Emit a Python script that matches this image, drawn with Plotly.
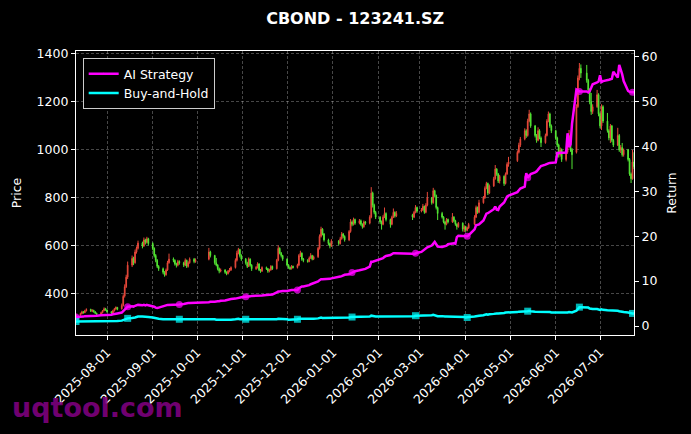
import pandas as pd
import plotly.graph_objects as go

# trading calendar (weekdays minus exchange holidays)
first_day = "2025-07-11"
last_day = "2026-07-24"
holidays = [
    "2025-10-01", "2025-10-02", "2025-10-03", "2025-10-06", "2025-10-07", "2025-10-08",
    "2026-01-01", "2026-01-02",
    "2026-02-16", "2026-02-17", "2026-02-18", "2026-02-19", "2026-02-20", "2026-02-23",
    "2026-04-06",
    "2026-05-01", "2026-05-04", "2026-05-05",
    "2026-06-19",
]

# OHLC, one row of values per month
opens = [
    305, 312, 318, 326, 322, 330, 336, 328, 332, 326, 320, 315, 322, 330, 339,
    333, 326, 320, 330, 338, 344, 338, 352, 392, 430, 470, 520, 548, 530, 575, 590, 612, 600, 625, 615, 630,
    610, 590, 560, 540, 515, 505, 490, 480, 500, 530, 545, 540, 525, 520, 535, 530, 520, 540, 515, 530, 545, 535,
    545, 575, 560, 530, 520, 505, 495, 500, 490, 485, 495, 500, 510, 540, 570, 585, 560,
    545, 530, 515, 545, 520, 505, 510, 525, 500, 495, 510, 505, 495, 500, 515, 505, 540, 590, 570, 560,
    545, 520, 510, 505, 515, 510, 520, 560, 570, 545, 540, 535, 550, 560, 545, 555, 590, 640, 670, 650, 625, 610, 600,
    620, 610, 630, 650, 640, 625, 660, 700, 690, 710, 695, 705, 690, 680, 700, 695, 720, 820, 770, 740,
    720, 700, 690, 720, 735, 710, 690, 720, 740, 725, 730, 720, 740, 760,
    745, 750, 765, 740, 770, 800, 780, 830, 810, 760, 735, 720, 700, 690, 710, 700, 720, 705, 690, 680, 695, 670,
    680, 665, 675, 690, 720, 760, 740, 780, 800, 840, 860, 820, 850, 880, 920, 900, 870, 890, 860, 900, 940,
    955, 990, 1020, 1045, 1080, 1060, 1120, 1150, 1100, 1060, 1040, 1080, 1050, 1030, 1060, 1120, 1150, 1100,
    1080, 1050, 1020, 980, 1000, 960, 990, 1030, 1060, 1000, 990, 1180, 1300, 1340, 1320, 1290, 1250, 1200, 1160, 1180, 1230,
    1150, 1100, 1180, 1120, 1080, 1050, 1100, 1040, 1020, 1060, 1000, 1010, 980, 1000, 960, 900, 880, 950,
]
highs = [
    318, 322, 330, 329, 334, 340, 338, 336, 334, 328, 322, 326, 333, 344, 342,
    335, 328, 334, 342, 348, 346, 360, 398, 440, 480, 535, 560, 555, 585, 598, 622, 618, 635, 630, 638, 634,
    615, 594, 566, 545, 520, 510, 495, 506, 538, 568, 552, 544, 530, 542, 540, 534, 548, 543, 536, 552, 550, 548,
    592, 580, 563, 550, 524, 510, 506, 503, 494, 500, 508, 515, 548, 580, 592, 588, 565,
    550, 534, 552, 548, 524, 516, 532, 528, 504, 515, 514, 508, 505, 520, 518, 546, 602, 594, 575, 563,
    548, 524, 514, 520, 518, 526, 566, 580, 573, 550, 545, 556, 570, 563, 560, 596, 648, 680, 674, 654, 630, 614, 628,
    624, 638, 658, 654, 644, 666, 712, 706, 718, 714, 712, 710, 694, 706, 704, 728, 845, 826, 776, 746,
    724, 706, 728, 760, 740, 714, 726, 756, 744, 745, 734, 746, 770, 764,
    758, 775, 768, 778, 825, 804, 842, 834, 814, 764, 742, 724, 704, 716, 714, 737, 724, 709, 694, 700, 698, 686,
    684, 680, 696, 728, 768, 764, 792, 808, 848, 867, 864, 856, 888, 937, 924, 904, 896, 894, 906, 948, 971,
    998, 1030, 1054, 1090, 1086, 1130, 1167, 1156, 1104, 1066, 1094, 1086, 1056, 1068, 1128, 1160, 1155, 1106,
    1084, 1055, 1026, 1010, 1006, 998, 1040, 1083, 1066, 1008, 1190, 1310, 1362, 1356, 1354, 1296, 1256, 1237, 1190, 1250, 1236,
    1156, 1190, 1186, 1154, 1086, 1108, 1104, 1046, 1092, 1066, 1020, 1029, 1006, 1004, 966, 906, 1000, 990,
]
lows = [
    302, 308, 315, 318, 320, 327, 325, 324, 322, 316, 311, 313, 319, 328, 330,
    322, 315, 318, 327, 334, 332, 335, 348, 385, 425, 462, 512, 520, 526, 568, 585, 590, 596, 606, 610, 602,
    582, 552, 532, 508, 496, 482, 472, 476, 496, 526, 532, 518, 510, 515, 522, 512, 516, 508, 510, 526, 528, 530,
    540, 552, 522, 515, 498, 486, 490, 484, 478, 481, 490, 496, 506, 535, 565, 552, 538,
    522, 508, 512, 514, 496, 500, 506, 495, 488, 492, 500, 488, 490, 497, 500, 502, 536, 565, 552, 538,
    515, 505, 500, 502, 506, 506, 516, 554, 538, 532, 530, 532, 546, 540, 541, 550, 585, 635, 644, 618, 604, 590, 596,
    602, 606, 626, 632, 618, 620, 655, 682, 685, 688, 690, 684, 672, 676, 688, 690, 715, 760, 732, 712,
    692, 668, 686, 716, 702, 676, 686, 716, 718, 720, 708, 716, 736, 738,
    740, 746, 734, 736, 765, 772, 776, 802, 752, 708, 714, 694, 668, 686, 694, 696, 698, 684, 668, 676, 660, 658,
    660, 661, 671, 686, 716, 734, 736, 776, 796, 836, 812, 816, 846, 876, 892, 862, 860, 850, 856, 896, 930,
    950, 985, 1012, 1040, 1050, 1055, 1115, 1092, 1052, 1030, 1036, 1044, 1012, 1026, 1056, 1115, 1092, 1070,
    1042, 1012, 968, 972, 950, 952, 984, 1024, 992, 920, 985, 1175, 1290, 1300, 1280, 1240, 1190, 1146, 1150, 1175, 1140,
    1090, 1083, 1112, 1072, 1040, 1029, 1032, 1012, 1016, 992, 987, 972, 972, 952, 892, 862, 876, 920,
]
closes = [
    312, 318, 325, 322, 330, 335, 328, 332, 326, 320, 315, 322, 330, 338, 333,
    326, 320, 330, 338, 344, 336, 352, 390, 430, 470, 520, 548, 530, 575, 590, 612, 600, 625, 615, 630, 610,
    590, 560, 540, 515, 505, 490, 480, 500, 530, 545, 540, 525, 520, 535, 530, 520, 540, 515, 530, 545, 535, 540,
    575, 560, 530, 520, 505, 495, 500, 490, 485, 495, 500, 510, 540, 570, 585, 560, 545,
    530, 515, 545, 520, 505, 510, 525, 500, 495, 510, 505, 495, 500, 515, 505, 540, 590, 570, 560, 545,
    520, 510, 505, 515, 510, 520, 560, 570, 545, 540, 535, 550, 560, 545, 555, 590, 640, 670, 650, 625, 610, 600, 620,
    610, 630, 650, 640, 625, 660, 700, 690, 710, 695, 705, 690, 680, 700, 695, 720, 820, 770, 740, 720,
    700, 690, 720, 735, 710, 690, 720, 740, 725, 735, 720, 740, 760, 745,
    750, 765, 740, 770, 800, 780, 830, 810, 760, 735, 720, 700, 690, 710, 700, 720, 705, 690, 680, 695, 670, 680,
    665, 675, 690, 720, 760, 740, 780, 800, 840, 860, 820, 850, 880, 920, 900, 870, 890, 860, 900, 940, 950,
    990, 1020, 1045, 1080, 1060, 1120, 1150, 1100, 1060, 1040, 1080, 1050, 1030, 1060, 1120, 1150, 1100, 1080,
    1050, 1020, 980, 1000, 960, 990, 1030, 1060, 1000, 980, 1180, 1300, 1340, 1320, 1290, 1250, 1200, 1160, 1180, 1230, 1150,
    1100, 1180, 1120, 1080, 1050, 1100, 1040, 1020, 1060, 1000, 1010, 980, 1000, 960, 900, 880, 950, 930,
]

# cumulative returns
ai_strategy = [
    2.0, 2.0, 2.1, 2.1, 2.2, 2.2, 2.2, 2.3, 2.3, 2.3, 2.3, 2.4, 2.4, 2.5, 2.5,
    2.5, 2.5, 2.6, 2.7, 2.8, 2.8, 3.0, 3.3, 3.6, 4.0, 4.3, 4.4, 4.3, 4.5, 4.6, 4.7, 4.6, 4.7, 4.6, 4.7, 4.6,
    4.5, 4.3, 4.1, 4.0, 4.1, 4.3, 4.5, 4.6, 4.7, 4.7, 4.7, 4.7, 4.8, 4.8, 4.8, 4.9, 5.0, 5.0, 5.1, 5.1, 5.2, 5.2,
    5.3, 5.4, 5.4, 5.5, 5.5, 5.5, 5.6, 5.7, 5.8, 5.9, 6.0, 6.0, 6.1, 6.2, 6.3, 6.3, 6.4,
    6.5, 6.5, 6.6, 6.6, 6.7, 6.7, 6.7, 6.8, 6.8, 6.8, 6.9, 6.9, 6.9, 6.9, 7.0, 7.5, 7.7, 7.7, 7.8, 7.8,
    7.8, 7.9, 7.9, 8.0, 8.0, 8.0, 8.4, 8.7, 8.8, 8.8, 8.9, 9.1, 9.3, 9.4, 9.6, 9.9, 10.2, 10.4, 10.4, 10.4, 10.5, 10.5, 10.6,
    10.8, 11.0, 11.1, 11.3, 11.4, 11.5, 11.7, 11.9, 12.1, 12.2, 12.4, 12.5, 12.5, 12.6, 12.7, 13.2, 14.3, 14.3, 14.4, 14.6,
    14.8, 14.9, 15.1, 15.4, 15.6, 15.8, 16.1, 16.2, 16.2, 16.2, 16.1, 16.0, 16.2, 16.3,
    16.5, 16.8, 17.0, 17.2, 17.5, 17.9, 18.3, 18.7, 18.2, 17.7, 17.6, 17.7, 17.8, 17.9, 18.2, 18.4, 18.4, 18.3, 19.8, 20.1, 20.0, 20.0,
    19.9, 20.0, 20.2, 21.5, 22.4, 22.5, 22.6, 23.5, 24.5, 25.0, 25.1, 25.3, 26.0, 26.6, 25.9, 25.8, 26.6, 27.5, 28.2, 28.8, 29.0,
    29.8, 30.2, 30.6, 31.0, 34.0, 33.0, 33.3, 33.8, 34.2, 34.4, 34.8, 35.3, 35.6, 35.9, 36.1, 36.2, 36.3, 36.3,
    36.4, 38.5, 38.5, 38.5, 38.5, 38.6, 42.9, 39.8, 40.4, 45.0, 52.6, 52.3, 52.2, 52.2, 52.2, 52.0, 52.3, 53.0, 53.8, 54.2, 54.4,
    55.8, 54.3, 54.5, 54.6, 54.8, 54.9, 55.0, 56.6, 55.3, 58.1, 57.2, 56.0, 54.5, 52.3, 52.1, 52.0, 52.0, 52.0,
]
buy_and_hold = [
    1.0, 1.0, 1.0, 1.0, 1.0, 1.0, 1.0, 1.0, 1.0, 1.0, 1.0, 1.0, 1.0, 1.1, 1.1,
    1.1, 1.1, 1.1, 1.1, 1.1, 1.1, 1.2, 1.3, 1.4, 1.5, 1.7, 1.8, 1.8, 1.9, 2.0, 2.1, 2.1, 2.1, 2.1, 2.1, 2.0,
    1.9, 1.8, 1.7, 1.7, 1.6, 1.5, 1.5, 1.5, 1.6, 1.6, 1.6, 1.5, 1.5, 1.6, 1.5, 1.5, 1.5, 1.5, 1.5, 1.6, 1.5, 1.5,
    1.6, 1.5, 1.5, 1.4, 1.4, 1.4, 1.4, 1.4, 1.3, 1.4, 1.4, 1.4, 1.5, 1.6, 1.6, 1.5, 1.5,
    1.5, 1.5, 1.5, 1.5, 1.4, 1.4, 1.5, 1.4, 1.4, 1.4, 1.4, 1.4, 1.4, 1.5, 1.4, 1.5, 1.6, 1.6, 1.5, 1.5,
    1.5, 1.4, 1.4, 1.5, 1.4, 1.5, 1.6, 1.6, 1.6, 1.6, 1.5, 1.6, 1.6, 1.6, 1.6, 1.7, 1.8, 1.9, 1.8, 1.8, 1.8, 1.8, 1.8,
    1.8, 1.9, 1.9, 1.9, 1.9, 1.9, 2.0, 2.0, 2.0, 2.0, 2.0, 2.0, 2.0, 2.0, 2.0, 2.1, 2.3, 2.2, 2.2, 2.1,
    2.1, 2.1, 2.1, 2.2, 2.1, 2.1, 2.1, 2.2, 2.2, 2.2, 2.2, 2.2, 2.3, 2.3,
    2.3, 2.3, 2.3, 2.3, 2.4, 2.4, 2.5, 2.4, 2.3, 2.2, 2.2, 2.1, 2.1, 2.1, 2.1, 2.1, 2.1, 2.0, 2.0, 2.0, 2.0, 2.0,
    1.9, 1.9, 2.0, 2.1, 2.2, 2.2, 2.3, 2.4, 2.5, 2.6, 2.5, 2.6, 2.7, 2.8, 2.8, 2.8, 2.8, 2.9, 3.0, 3.0, 3.1,
    3.1, 3.2, 3.2, 3.3, 3.3, 3.3, 3.4, 3.3, 3.2, 3.2, 3.2, 3.1, 3.1, 3.1, 3.2, 3.2, 3.1, 3.0,
    3.0, 2.9, 2.9, 2.9, 2.9, 3.0, 3.0, 3.1, 3.0, 3.0, 3.4, 3.9, 4.2, 4.2, 4.2, 4.1, 3.9, 3.8, 3.8, 3.8, 3.7,
    3.6, 3.7, 3.6, 3.5, 3.5, 3.5, 3.4, 3.4, 3.4, 3.3, 3.2, 3.2, 3.1, 3.0, 2.9, 2.9, 2.8, 2.8,
]

month_ticks = pd.date_range("2025-08-01", "2026-07-01", freq="MS")

dates = pd.bdate_range(first_day, last_day)
dates = dates[~dates.isin(pd.to_datetime(holidays))]

FONT = "DejaVu Sans"
RED = "#ff5040"
GREEN = "#5cff3a"
GRID = "rgba(255,255,255,0.28)"
MARK_EVERY = 25


def sparse_markers(n: int, size: int) -> list[int]:
    return [size if i % MARK_EVERY == 0 else 0 for i in range(n)]


fig = go.Figure()
fig.add_trace(go.Candlestick(
    x=dates, open=opens, high=highs, low=lows, close=closes,
    increasing=dict(line=dict(color=RED, width=1), fillcolor=RED),
    decreasing=dict(line=dict(color=GREEN, width=1), fillcolor=GREEN),
    opacity=0.9,
    showlegend=False,
    yaxis="y",
))
fig.add_trace(go.Scatter(
    x=dates, y=ai_strategy, name="AI Strategy", yaxis="y2",
    mode="lines+markers",
    line=dict(color="#ff00ff", width=2.5),
    marker=dict(symbol="circle", size=sparse_markers(len(dates), 7), color="#ff00ff",
                line=dict(width=0)),
))
fig.add_trace(go.Scatter(
    x=dates, y=buy_and_hold, name="Buy-and-Hold", yaxis="y2",
    mode="lines+markers",
    line=dict(color="#00ffff", width=2.5),
    marker=dict(symbol="square", size=sparse_markers(len(dates), 7), color="#00ffff",
                line=dict(width=0)),
))

axis_common = dict(
    showline=True, linecolor="white", linewidth=1.2,
    ticks="outside", ticklen=4, tickcolor="white",
    tickfont=dict(family=FONT, size=12.5, color="white"),
    zeroline=False,
)

fig.update_layout(
    width=691, height=434,
    margin=dict(l=76, r=57, t=51, b=99),
    paper_bgcolor="black", plot_bgcolor="black",
    font=dict(family=FONT, color="white", size=12.5),
    title=dict(text="<b>CBOND - 123241.SZ</b>", x=0.514, xanchor="center", y=0.958,
               yanchor="middle", font=dict(family=FONT, size=16, color="white")),
    xaxis=dict(
        **axis_common,
        type="date",
        range=["2025-07-11", "2026-07-24"],
        rangeslider=dict(visible=False),
        tickvals=month_ticks,
        ticktext=[d.strftime("%Y-%m-%d") for d in month_ticks],
        tickangle=-45,
        showgrid=True, gridcolor=GRID, griddash="3px,2px", gridwidth=0.6,
        mirror=True,
    ),
    yaxis=dict(
        **axis_common,
        range=[229, 1412],
        tickvals=[400, 600, 800, 1000, 1200, 1400],
        showgrid=True, gridcolor=GRID, griddash="3px,2px", gridwidth=0.6,
        mirror=True,
        title=dict(text="Price", font=dict(family=FONT, size=12.5, color="white"), standoff=12),
    ),
    yaxis2=dict(
        **axis_common,
        overlaying="y", side="right",
        range=[-2.0, 61.2],
        tickvals=[0, 10, 20, 30, 40, 50, 60],
        showgrid=False,
        title=dict(text="Return", font=dict(family=FONT, size=12.5, color="white"), standoff=10),
    ),
    legend=dict(
        x=0.012, y=0.975, xanchor="left", yanchor="top",
        bgcolor="black", bordercolor="rgba(255,255,255,0.8)", borderwidth=1,
        font=dict(family=FONT, size=12.5, color="white"),
        tracegroupgap=2,
    ),
    showlegend=True,
)

fig.add_annotation(
    text="<b>uqtool.com</b>", xref="paper", yref="paper",
    x=-0.118, y=-0.255, xanchor="left", yanchor="middle", showarrow=False,
    font=dict(family=FONT, size=27, color="rgba(128,0,128,0.9)"),
)

# the page has a default 8px body margin; drop it so the figure sits at 0,0
fig.write_html(
    "out.html",
    config={"displayModeBar": False},
    post_script="document.body.style.margin='0';",
)
